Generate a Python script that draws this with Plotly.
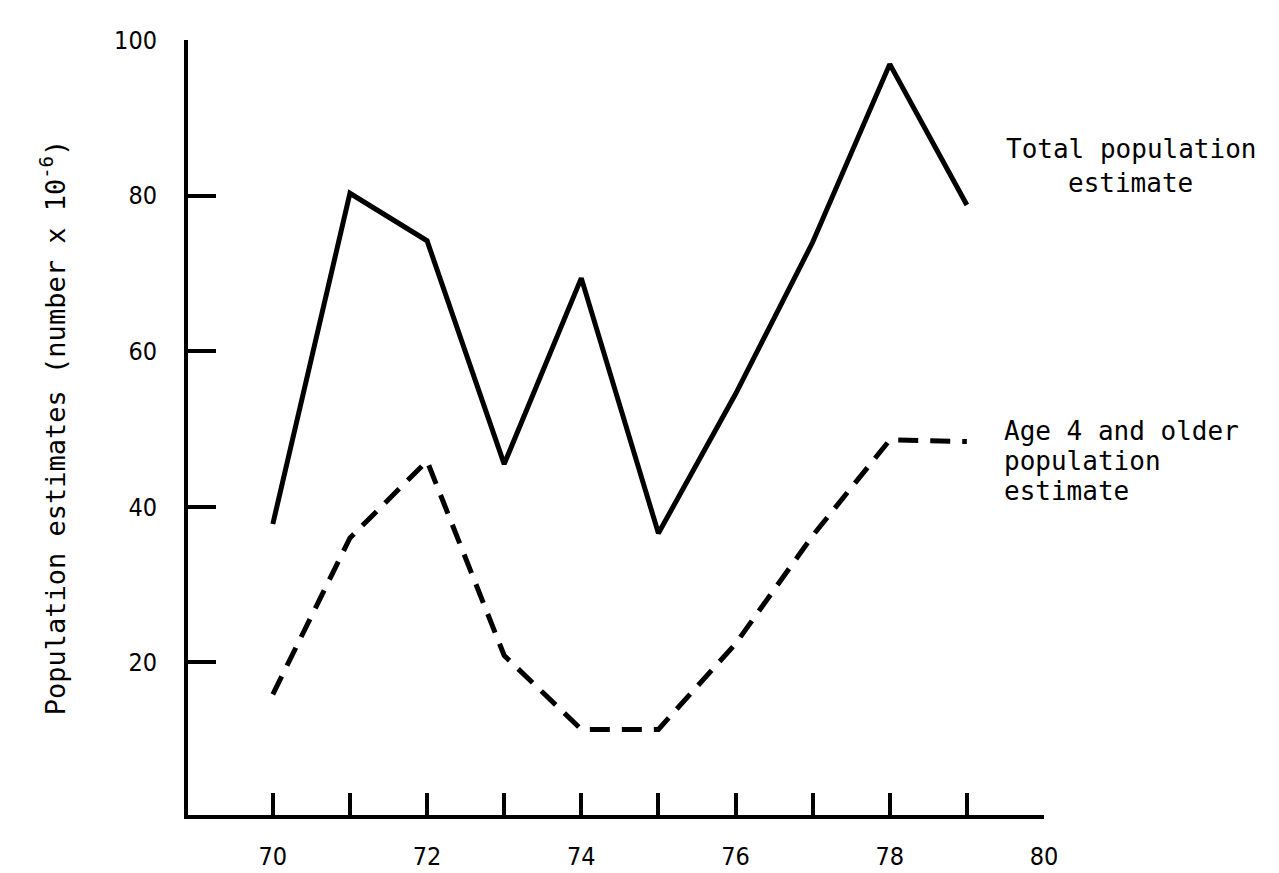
import plotly.graph_objects as go

years = [70, 71, 72, 73, 74, 75, 76, 77, 78, 79]
total_pop = [37.8, 80.3, 74.2, 45.5, 69.4, 36.6, 54.5, 74.0, 96.9, 78.8]
age4_pop = [15.9, 36.0, 45.9, 20.9, 11.4, 11.4, 22.4, 36.3, 48.6, 48.4]

x_tickvals = [70, 71, 72, 73, 74, 75, 76, 77, 78, 79, 80]
x_ticktext = ["70", "", "72", "", "74", "", "76", "", "78", "", "80"]
y_tickvals = [20, 40, 60, 80, 100]
y_ticktext = ["20", "40", "60", "80", "100"]

label_font = dict(family="DejaVu Sans Mono, Liberation Mono, monospace", size=26, color="black")
title_font = dict(family="DejaVu Sans Mono, Liberation Mono, monospace", size=27, color="black")
tick_font = dict(family="DejaVu Sans Condensed, DejaVu Sans, sans-serif", size=25, color="black")

fig = go.Figure()
fig.add_trace(go.Scatter(x=years, y=total_pop, mode="lines",
                         line=dict(color="black", width=5), showlegend=False))
fig.add_trace(go.Scatter(x=years, y=age4_pop, mode="lines",
                         line=dict(color="black", width=5, dash="20px,12px"), showlegend=False))

fig.update_layout(
    width=1279, height=873,
    margin=dict(l=180, r=243, t=32, b=66, autoexpand=False),
    plot_bgcolor="white", paper_bgcolor="white",
    showlegend=False,
    xaxis=dict(range=[68.9, 80], tickvals=x_tickvals, ticktext=x_ticktext, automargin=False,
               showgrid=False, zeroline=False, showline=True, linecolor="black", linewidth=4,
               ticks="inside", ticklen=22, tickwidth=4, tickcolor="black",
               tickfont=tick_font, ticklabelstandoff=16),
    yaxis=dict(range=[0.4, 100], tickvals=y_tickvals, ticktext=y_ticktext, automargin=False,
               showgrid=False, zeroline=False, showline=True, linecolor="black", linewidth=4,
               ticks="inside", ticklen=28, tickwidth=4, tickcolor="black",
               tickfont=tick_font, ticklabelstandoff=22),
)

annotations = [
    dict(text="Population estimates (number x 10<sup>-6</sup>)", x=-0.158, y=0.5,
         xref="paper", yref="paper", textangle=-90, showarrow=False,
         xanchor="center", yanchor="middle", font=title_font),
    dict(text="Total population", x=1.1016, y=0.859, xref="paper", yref="paper", showarrow=False,
         xanchor="center", yanchor="middle", font=label_font),
    dict(text="estimate", x=1.1016, y=0.8155, xref="paper", yref="paper", showarrow=False,
         xanchor="center", yanchor="middle", font=label_font),
    dict(text="Age 4 and older", x=0.951, y=0.4955, xref="paper", yref="paper", showarrow=False,
         xanchor="left", yanchor="middle", font=label_font),
    dict(text="population", x=0.951, y=0.4568, xref="paper", yref="paper", showarrow=False,
         xanchor="left", yanchor="middle", font=label_font),
    dict(text="estimate", x=0.951, y=0.418, xref="paper", yref="paper", showarrow=False,
         xanchor="left", yanchor="middle", font=label_font),
]
fig.update_layout(annotations=annotations)

fig.write_html("out.html")
